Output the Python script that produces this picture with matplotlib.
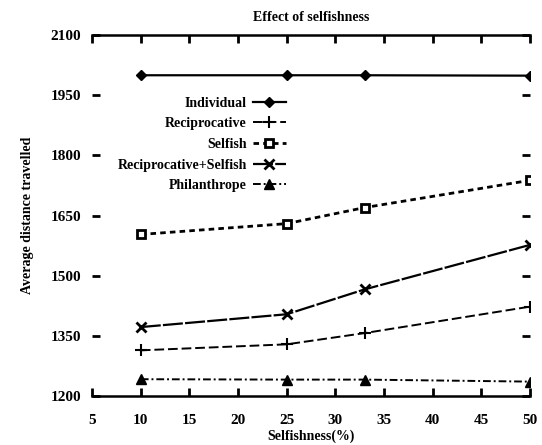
import numpy as np
import matplotlib.pyplot as plt

plt.rcParams['font.family'] = ['Liberation Serif', 'DejaVu Serif']
plt.rcParams['font.weight'] = 'bold'

selfishness = [10, 25, 33, 50]
individual = [2000, 2000, 2000, 1999]
reciprocative = [1314, 1329, 1357, 1423]
selfish = [1603, 1630, 1670, 1738]
recip_selfish = [1372, 1404, 1466, 1577]
philanthrope = [1242, 1241, 1241, 1236]

xticks = [5, 10, 15, 20, 25, 30, 35, 40, 45, 50]
yticks = [1200, 1350, 1500, 1650, 1800, 1950, 2100]

fig = plt.figure(figsize=(5.42, 4.45), dpi=100)
ax = fig.add_axes([0.170, 0.110, 0.808, 0.811])

ax.plot(selfishness, individual, color='black', lw=1.6, ls='-',
        marker='D', ms=5, label='Individual')
ax.plot(selfishness, reciprocative, color='black', lw=1.4, ls=(0, (5, 2)),
        marker='+', ms=9, mew=1.5, label='Reciprocative')
ax.plot(selfishness, selfish, color='black', lw=2, ls=(0, (2, 1.5)),
        marker='s', ms=6, mfc='white', mew=2, label='Selfish')
ax.plot(selfishness, recip_selfish, color='black', lw=1.6, ls=(0, (9, 1)),
        marker='x', ms=7, mew=2, label='Reciprocative+Selfish')
ax.plot(selfishness, philanthrope, color='black', lw=1.4, ls=(0, (4, 1.5, 1, 1.5)),
        marker='^', ms=7, label='Philanthrope')

ax.set_xlim(5, 50)
ax.set_ylim(1200, 2100)
ax.set_xticks(xticks)
ax.set_yticks(yticks)
ax.spines['left'].set_visible(False)
ax.spines['right'].set_visible(False)
ax.spines['top'].set_linewidth(1.8)
ax.spines['bottom'].set_linewidth(1.8)
ax.tick_params(direction='in', length=6, width=2, top=True, right=True,
               labelsize=11, pad=8)
ax.tick_params(axis='x', pad=13)

ax.set_title('Effect of selfishness', fontsize=10, fontweight='bold', pad=10)
ax.set_xlabel('Selfishness(%)', fontsize=10, fontweight='bold', labelpad=2)
ax.set_ylabel('Average distance travelled', fontsize=10, fontweight='bold', labelpad=12)

ax.legend(loc='upper right', bbox_to_anchor=(0.455, 0.845), frameon=False,
          markerfirst=False, fontsize=10, handlelength=2.4, labelspacing=0.55,
          handletextpad=0.4, borderaxespad=0, alignment='right')
leg = ax.get_legend()
for t in leg.get_texts():
    t.set_ha('right')
leg._legend_box.align = 'right'

fig.savefig('out.png', dpi=100)
